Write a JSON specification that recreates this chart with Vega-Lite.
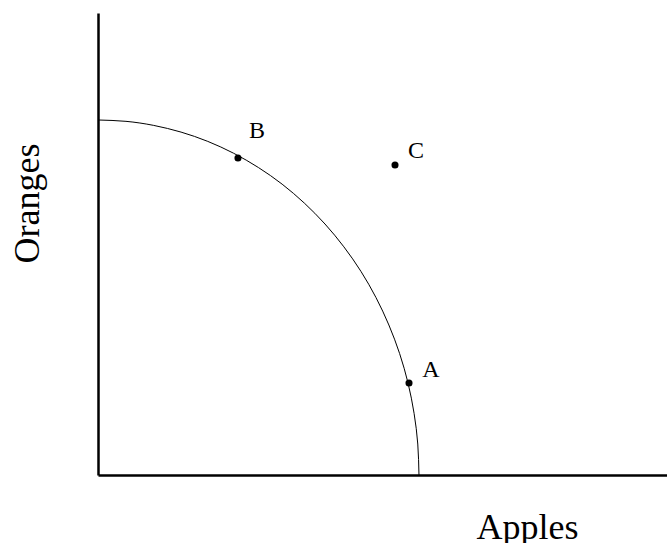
{
  "$schema": "https://vega.github.io/schema/vega-lite/v6.json",
  "width": 569,
  "height": 462,
  "autosize": {"type": "none"},
  "padding": {"left": 98, "top": 13, "right": 0, "bottom": 68},
  "background": "white",
  "config": {
    "view": {"stroke": null},
    "font": "Liberation Serif",
    "axis": {"grid": false, "ticks": false, "labels": false, "domainColor": "black", "domainWidth": 2.5, "titleFont": "Liberation Serif", "titleFontWeight": "normal", "titleFontSize": 36, "titleColor": "black", "titleBaseline": "alphabetic"}
  },
  "datasets": {
    "curve": [
      {"i": 0, "apples": 56.41, "oranges": 0},
      {"i": 1, "apples": 56.20, "oranges": 6.70},
      {"i": 2, "apples": 55.55, "oranges": 13.34},
      {"i": 3, "apples": 54.49, "oranges": 19.89},
      {"i": 4, "apples": 53.01, "oranges": 26.28},
      {"i": 5, "apples": 51.12, "oranges": 32.47},
      {"i": 6, "apples": 48.85, "oranges": 38.42},
      {"i": 7, "apples": 46.21, "oranges": 44.08},
      {"i": 8, "apples": 43.21, "oranges": 49.39},
      {"i": 9, "apples": 39.89, "oranges": 54.33},
      {"i": 10, "apples": 36.26, "oranges": 58.86},
      {"i": 11, "apples": 32.36, "oranges": 62.95},
      {"i": 12, "apples": 28.21, "oranges": 66.54},
      {"i": 13, "apples": 23.84, "oranges": 69.64},
      {"i": 14, "apples": 19.29, "oranges": 72.21},
      {"i": 15, "apples": 14.60, "oranges": 74.22},
      {"i": 16, "apples": 9.79, "oranges": 75.67},
      {"i": 17, "apples": 4.92, "oranges": 76.55},
      {"i": 18, "apples": 0, "oranges": 76.84}
    ],
    "points": [
      {"label": "A", "apples": 54.66, "oranges": 19.91},
      {"label": "B", "apples": 24.60, "oranges": 68.61},
      {"label": "C", "apples": 52.20, "oranges": 67.10}
    ]
  },
  "encoding": {
    "x": {"field": "apples", "type": "quantitative", "scale": {"domain": [0, 100], "nice": false, "zero": true}, "axis": {"title": "Apples", "titleX": 429, "titleY": 63, "titleAnchor": null, "titleAlign": "center"}},
    "y": {"field": "oranges", "type": "quantitative", "scale": {"domain": [0, 100], "nice": false}, "axis": {"title": "Oranges", "titleX": -60, "titleY": 190, "titleAngle": -90, "titleAlign": "center"}}
  },
  "layer": [
    {
      "data": {"name": "curve"},
      "mark": {"type": "line", "color": "black", "strokeWidth": 1, "interpolate": "natural"},
      "encoding": {"order": {"field": "i", "type": "quantitative"}}
    },
    {
      "data": {"name": "points"},
      "mark": {"type": "circle", "color": "black", "opacity": 1, "size": 50}
    },
    {
      "data": {"name": "points"},
      "transform": [{"filter": "datum.label == 'A'"}],
      "mark": {"type": "text", "fontSize": 24, "color": "black", "align": "center", "baseline": "alphabetic", "dx": 22, "dy": -6},
      "encoding": {"text": {"field": "label"}}
    },
    {
      "data": {"name": "points"},
      "transform": [{"filter": "datum.label == 'B'"}],
      "mark": {"type": "text", "fontSize": 24, "color": "black", "align": "center", "baseline": "alphabetic", "dx": 19, "dy": -20},
      "encoding": {"text": {"field": "label"}}
    },
    {
      "data": {"name": "points"},
      "transform": [{"filter": "datum.label == 'C'"}],
      "mark": {"type": "text", "fontSize": 24, "color": "black", "align": "center", "baseline": "alphabetic", "dx": 21, "dy": -7},
      "encoding": {"text": {"field": "label"}}
    }
  ]
}
